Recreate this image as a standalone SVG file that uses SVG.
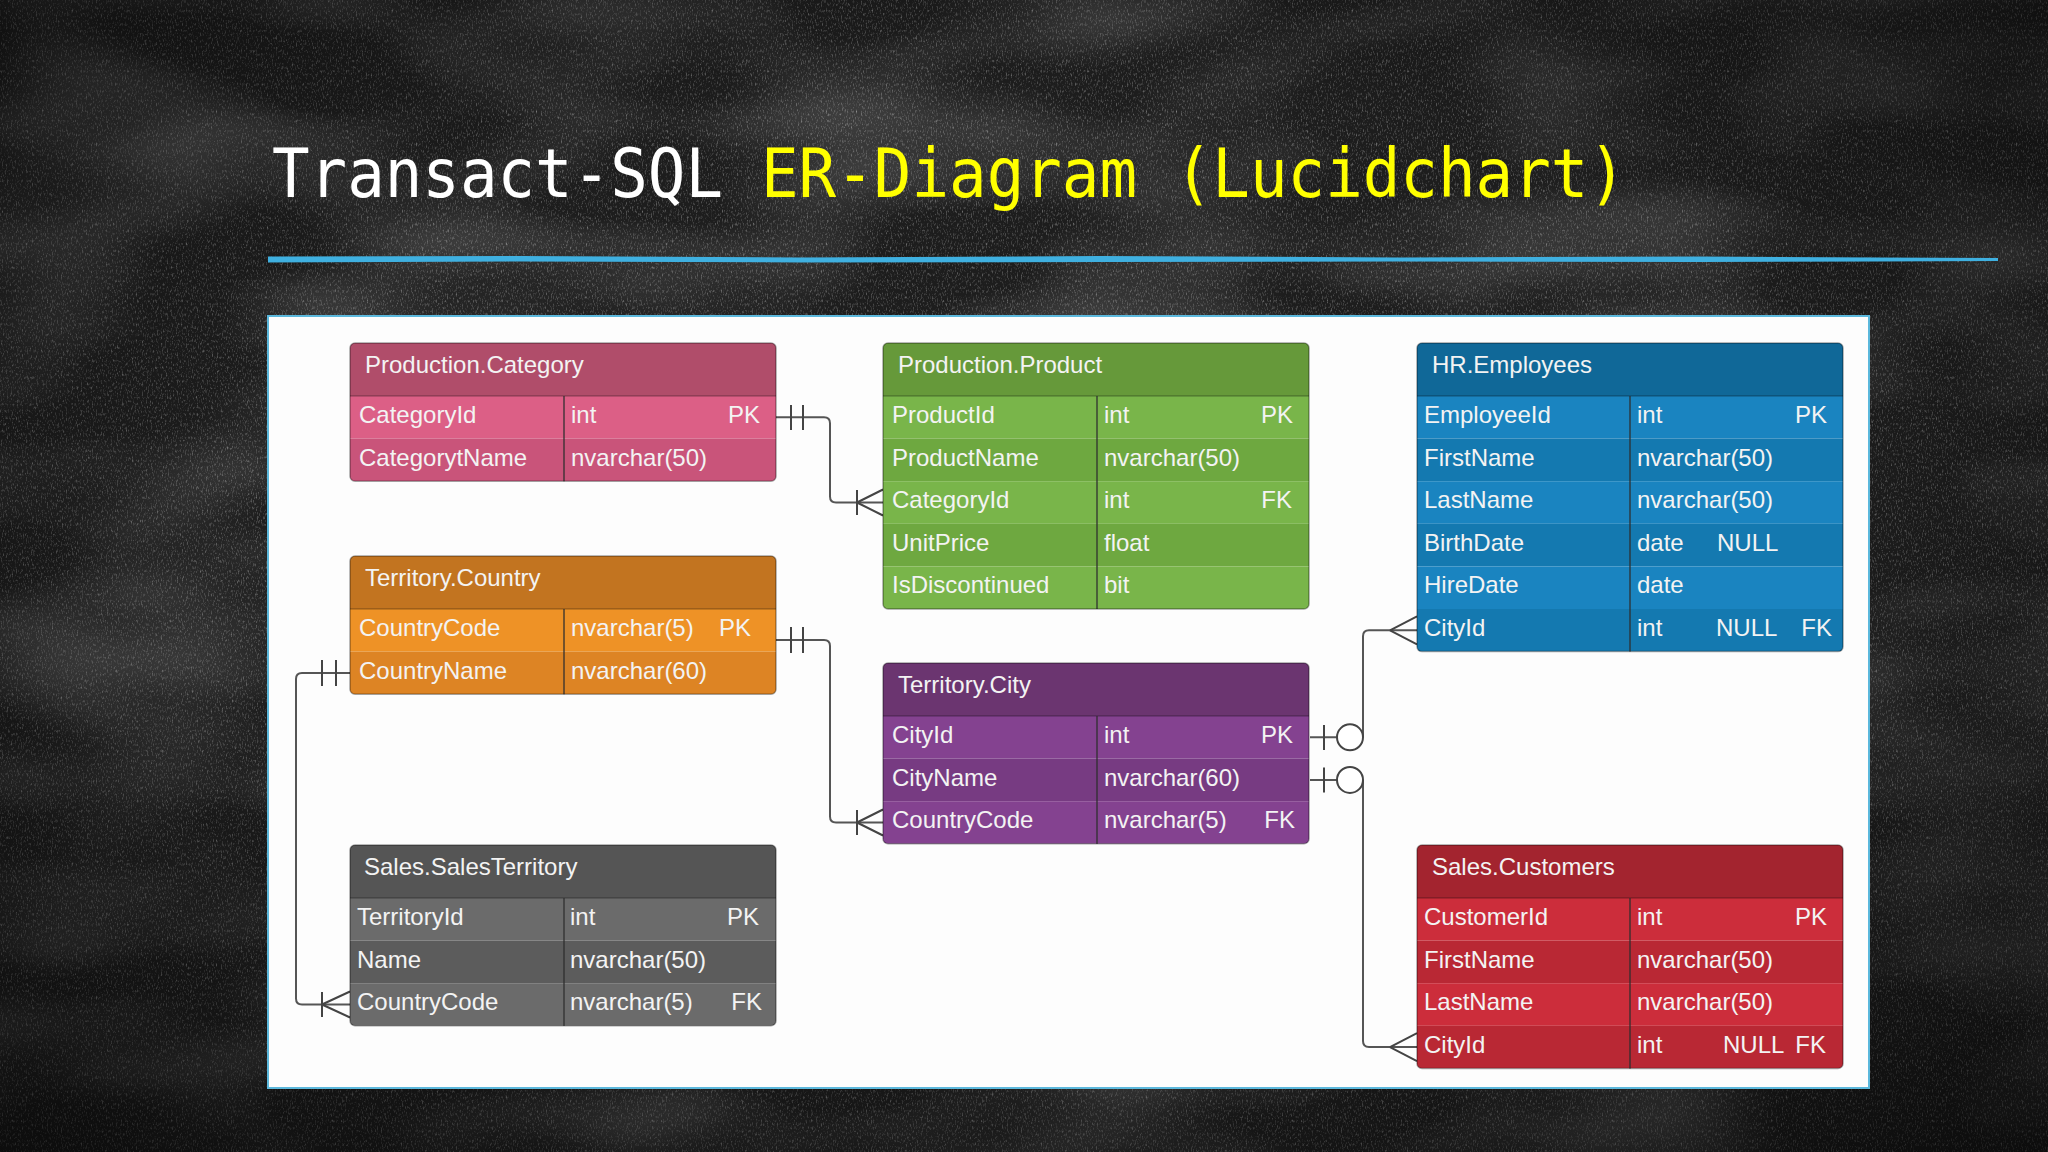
<svg xmlns="http://www.w3.org/2000/svg" width="2048" height="1152" viewBox="0 0 2048 1152">
<defs>
<style>
.title{font-family:"DejaVu Sans Mono","Liberation Mono",monospace;font-size:68px}
.t{font-family:"Liberation Sans",Arial,sans-serif;font-size:24px;fill:#f3f3f3}
.div{stroke:#2e2e2e;stroke-opacity:.85;stroke-width:1.5}
.hl{stroke:#000;stroke-opacity:.25;stroke-width:1.5}
.ol{fill:none;stroke:#000;stroke-opacity:.35;stroke-width:1.5}
.cn{fill:none;stroke:#555;stroke-width:2}
.ck{fill:none;stroke:#444;stroke-width:2}
.circ{fill:#fff;stroke:#444;stroke-width:2}
</style>
<filter id="chalk" x="0" y="0" width="2048" height="1152" filterUnits="userSpaceOnUse">
<feTurbulence type="fractalNoise" baseFrequency="0.8 0.3" numOctaves="3" seed="7" result="n"/>
<feColorMatrix in="n" type="matrix" values="0 0 0 0 0.8  0 0 0 0 0.8  0 0 0 0 0.8  1.0 0 0 0 -0.52"/>
</filter>
<filter id="blot" x="0" y="0" width="2048" height="1152" filterUnits="userSpaceOnUse">
<feTurbulence type="fractalNoise" baseFrequency="0.004 0.01" numOctaves="2" seed="3" result="n"/>
<feColorMatrix in="n" type="matrix" values="0 0 0 0 0.6  0 0 0 0 0.6  0 0 0 0 0.6  0.45 0 0 0 -0.18"/>
</filter>
<radialGradient id="vig" cx="0.5" cy="0.45" r="0.75">
<stop offset="0.5" stop-color="#000" stop-opacity="0"/>
<stop offset="1" stop-color="#000" stop-opacity="0.6"/>
</radialGradient>
<clipPath id="c2"><rect x="0" y="0" width="426" height="138.2" rx="5"/></clipPath>
<clipPath id="c3"><rect x="0" y="0" width="426" height="180.8" rx="5"/></clipPath>
<clipPath id="c4"><rect x="0" y="0" width="426" height="223.4" rx="5"/></clipPath>
<clipPath id="c5"><rect x="0" y="0" width="426" height="266" rx="5"/></clipPath>
<clipPath id="c6"><rect x="0" y="0" width="426" height="308.6" rx="5"/></clipPath>
</defs>

<!-- background -->
<rect x="0" y="0" width="2048" height="1152" fill="#1d1d1d"/>
<rect x="0" y="0" width="2048" height="1152" filter="url(#blot)"/>
<rect x="0" y="0" width="2048" height="1152" filter="url(#chalk)"/>
<rect x="0" y="0" width="2048" height="1152" fill="url(#vig)"/>

<!-- title -->
<text x="272" y="197" class="title" fill="#ffffff" textLength="451" lengthAdjust="spacingAndGlyphs">Transact-SQL</text>
<text x="761" y="197" class="title" fill="#ffff00" textLength="865" lengthAdjust="spacingAndGlyphs">ER-Diagram (Lucidchart)</text>

<!-- blue brush line -->
<path d="M268,256.5 L520,256 L800,257.5 L1100,256 L1400,257.5 L1700,256.5 L1880,257.5 L1998,258 L1998,261 L1880,261.5 L1700,262 L1400,261.5 L1100,262 L800,262.5 L520,261.5 L268,262.5 Z" fill="#3fb0e0"/>

<!-- white panel -->
<rect x="268" y="316" width="1601" height="772" fill="#fdfdfd" stroke="#5bb8dc" stroke-width="2"/>

<!-- connectors -->
<g id="connectors">
  <!-- Category.CategoryId -> Product.CategoryId -->
  <path class="cn" d="M776,417.3 H824 Q830,417.3 830,423.3 V496.5 Q830,502.5 836,502.5 H883"/>
  <path class="ck" d="M791,405 V430 M803,405 V430"/>
  <path class="ck" d="M857,502.5 L883,489.5 M857,502.5 L883,515.5 M857,490 V515"/>
  <!-- Country.CountryCode -> City.CountryCode -->
  <path class="cn" d="M776,640 H824 Q830,640 830,646 V816.5 Q830,822.5 836,822.5 H883"/>
  <path class="ck" d="M791,627 V653 M803,627 V653"/>
  <path class="ck" d="M857,822.5 L883,809.5 M857,822.5 L883,835.5 M857,810 V835"/>
  <!-- Country.CountryName -> SalesTerritory.CountryCode -->
  <path class="cn" d="M350,673 H302 Q296,673 296,679 V998.5 Q296,1004.5 302,1004.5 H350"/>
  <path class="ck" d="M322,660 V686 M336,660 V686"/>
  <path class="ck" d="M322,1004.5 L350,991.5 M322,1004.5 L350,1017.5 M322,992 V1017"/>
  <!-- City.CityId -> Employees.CityId -->
  <path class="cn" d="M1310,737.3 H1337 M1363,737.3 V636.3 Q1363,630.3 1369,630.3 H1417"/>
  <path class="ck" d="M1324,725 V750"/>
  <circle class="circ" cx="1350" cy="737.3" r="13"/>
  <path class="ck" d="M1390,630.3 L1417,616.3 M1390,630.3 L1417,644.3"/>
  <!-- City.CityName -> Customers.CityId -->
  <path class="cn" d="M1310,779.9 H1337 M1363,779.9 V1041.1 Q1363,1047.1 1369,1047.1 H1417"/>
  <path class="ck" d="M1324,767.5 V792.5"/>
  <circle class="circ" cx="1350" cy="779.9" r="13"/>
  <path class="ck" d="M1390,1047.1 L1417,1033.1 M1390,1047.1 L1417,1061.1"/>
</g>

<!-- Production.Category -->
<g id="production-category" transform="translate(350,343)">
  <g clip-path="url(#c2)">
    <rect x="0" y="0" width="426" height="53" fill="#b04d6a"/>
    <rect x="0" y="53" width="426" height="42.6" fill="#dc5f86"/>
    <rect x="0" y="95.6" width="426" height="42.6" fill="#c9547a"/>
  </g>
  <line class="hl" x1="0" y1="53" x2="426" y2="53"/>
  <line class="div" x1="214" y1="53" x2="214" y2="138.2"/>
  <rect class="ol" x="0" y="0" width="426" height="138.2" rx="5"/>
  <text class="t" x="15" y="30">Production.Category</text>
  <text class="t" x="9" y="80">CategoryId</text><text class="t" x="221" y="80">int</text><text class="t" x="410" y="80" text-anchor="end">PK</text>
  <text class="t" x="9" y="122.6">CategorytName</text><text class="t" x="221" y="122.6">nvarchar(50)</text>
</g>

<!-- Production.Product -->
<g id="production-product" transform="translate(883,343)">
  <g clip-path="url(#c5)">
    <rect x="0" y="0" width="426" height="53" fill="#66993a"/>
    <rect x="0" y="53" width="426" height="42.6" fill="#79b54a"/>
    <rect x="0" y="95.6" width="426" height="42.6" fill="#6ea840"/>
    <rect x="0" y="138.2" width="426" height="42.6" fill="#79b54a"/>
    <rect x="0" y="180.8" width="426" height="42.6" fill="#6ea840"/>
    <rect x="0" y="223.4" width="426" height="42.6" fill="#79b54a"/>
  </g>
  <line class="hl" x1="0" y1="53" x2="426" y2="53"/>
  <line class="div" x1="214" y1="53" x2="214" y2="266"/>
  <rect class="ol" x="0" y="0" width="426" height="266" rx="5"/>
  <text class="t" x="15" y="30">Production.Product</text>
  <text class="t" x="9" y="80">ProductId</text><text class="t" x="221" y="80">int</text><text class="t" x="410" y="80" text-anchor="end">PK</text>
  <text class="t" x="9" y="122.6">ProductName</text><text class="t" x="221" y="122.6">nvarchar(50)</text>
  <text class="t" x="9" y="165.2">CategoryId</text><text class="t" x="221" y="165.2">int</text><text class="t" x="409" y="165.2" text-anchor="end">FK</text>
  <text class="t" x="9" y="207.8">UnitPrice</text><text class="t" x="221" y="207.8">float</text>
  <text class="t" x="9" y="250.4">IsDiscontinued</text><text class="t" x="221" y="250.4">bit</text>
</g>

<!-- HR.Employees -->
<g id="hr-employees" transform="translate(1417,343)">
  <g clip-path="url(#c6)">
    <rect x="0" y="0" width="426" height="53" fill="#106898"/>
    <rect x="0" y="53" width="426" height="42.6" fill="#1a84c0"/>
    <rect x="0" y="95.6" width="426" height="42.6" fill="#1479b0"/>
    <rect x="0" y="138.2" width="426" height="42.6" fill="#1a84c0"/>
    <rect x="0" y="180.8" width="426" height="42.6" fill="#1479b0"/>
    <rect x="0" y="223.4" width="426" height="42.6" fill="#1a84c0"/>
    <rect x="0" y="266" width="426" height="42.6" fill="#1479b0"/>
  </g>
  <line class="hl" x1="0" y1="53" x2="426" y2="53"/>
  <line class="div" x1="213" y1="53" x2="213" y2="308.6"/>
  <rect class="ol" x="0" y="0" width="426" height="308.6" rx="5"/>
  <text class="t" x="15" y="30">HR.Employees</text>
  <text class="t" x="7" y="80">EmployeeId</text><text class="t" x="220" y="80">int</text><text class="t" x="410" y="80" text-anchor="end">PK</text>
  <text class="t" x="7" y="122.6">FirstName</text><text class="t" x="220" y="122.6">nvarchar(50)</text>
  <text class="t" x="7" y="165.2">LastName</text><text class="t" x="220" y="165.2">nvarchar(50)</text>
  <text class="t" x="7" y="207.8">BirthDate</text><text class="t" x="220" y="207.8">date</text><text class="t" x="300" y="207.8">NULL</text>
  <text class="t" x="7" y="250.4">HireDate</text><text class="t" x="220" y="250.4">date</text>
  <text class="t" x="7" y="293">CityId</text><text class="t" x="220" y="293">int</text><text class="t" x="299" y="293">NULL</text><text class="t" x="415" y="293" text-anchor="end">FK</text>
</g>

<!-- Territory.Country -->
<g id="territory-country" transform="translate(350,556)">
  <g clip-path="url(#c2)">
    <rect x="0" y="0" width="426" height="53" fill="#c27420"/>
    <rect x="0" y="53" width="426" height="42.6" fill="#ee9226"/>
    <rect x="0" y="95.6" width="426" height="42.6" fill="#dd8424"/>
  </g>
  <line class="hl" x1="0" y1="53" x2="426" y2="53"/>
  <line class="div" x1="214" y1="53" x2="214" y2="138.2"/>
  <rect class="ol" x="0" y="0" width="426" height="138.2" rx="5"/>
  <text class="t" x="15" y="30">Territory.Country</text>
  <text class="t" x="9" y="80">CountryCode</text><text class="t" x="221" y="80">nvarchar(5)</text><text class="t" x="401" y="80" text-anchor="end">PK</text>
  <text class="t" x="9" y="122.6">CountryName</text><text class="t" x="221" y="122.6">nvarchar(60)</text>
</g>

<!-- Territory.City -->
<g id="territory-city" transform="translate(883,663)">
  <g clip-path="url(#c3)">
    <rect x="0" y="0" width="426" height="53" fill="#6b3570"/>
    <rect x="0" y="53" width="426" height="42.6" fill="#844290"/>
    <rect x="0" y="95.6" width="426" height="42.6" fill="#773b82"/>
    <rect x="0" y="138.2" width="426" height="42.6" fill="#844290"/>
  </g>
  <line class="hl" x1="0" y1="53" x2="426" y2="53"/>
  <line class="div" x1="214" y1="53" x2="214" y2="180.8"/>
  <rect class="ol" x="0" y="0" width="426" height="180.8" rx="5"/>
  <text class="t" x="15" y="30">Territory.City</text>
  <text class="t" x="9" y="80">CityId</text><text class="t" x="221" y="80">int</text><text class="t" x="410" y="80" text-anchor="end">PK</text>
  <text class="t" x="9" y="122.6">CityName</text><text class="t" x="221" y="122.6">nvarchar(60)</text>
  <text class="t" x="9" y="165.2">CountryCode</text><text class="t" x="221" y="165.2">nvarchar(5)</text><text class="t" x="412" y="165.2" text-anchor="end">FK</text>
</g>

<!-- Sales.SalesTerritory -->
<g id="sales-salesterritory" transform="translate(350,845)">
  <g clip-path="url(#c3)">
    <rect x="0" y="0" width="426" height="53" fill="#555555"/>
    <rect x="0" y="53" width="426" height="42.6" fill="#6b6b6b"/>
    <rect x="0" y="95.6" width="426" height="42.6" fill="#5c5c5c"/>
    <rect x="0" y="138.2" width="426" height="42.6" fill="#6b6b6b"/>
  </g>
  <line class="hl" x1="0" y1="53" x2="426" y2="53"/>
  <line class="div" x1="214" y1="53" x2="214" y2="180.8"/>
  <rect class="ol" x="0" y="0" width="426" height="180.8" rx="5"/>
  <text class="t" x="14" y="30">Sales.SalesTerritory</text>
  <text class="t" x="7" y="80">TerritoryId</text><text class="t" x="220" y="80">int</text><text class="t" x="409" y="80" text-anchor="end">PK</text>
  <text class="t" x="7" y="122.6">Name</text><text class="t" x="220" y="122.6">nvarchar(50)</text>
  <text class="t" x="7" y="165.2">CountryCode</text><text class="t" x="220" y="165.2">nvarchar(5)</text><text class="t" x="412" y="165.2" text-anchor="end">FK</text>
</g>

<!-- Sales.Customers -->
<g id="sales-customers" transform="translate(1417,845)">
  <g clip-path="url(#c4)">
    <rect x="0" y="0" width="426" height="53" fill="#a3242f"/>
    <rect x="0" y="53" width="426" height="42.6" fill="#cc2d3b"/>
    <rect x="0" y="95.6" width="426" height="42.6" fill="#b92834"/>
    <rect x="0" y="138.2" width="426" height="42.6" fill="#cc2d3b"/>
    <rect x="0" y="180.8" width="426" height="42.6" fill="#b92834"/>
  </g>
  <line class="hl" x1="0" y1="53" x2="426" y2="53"/>
  <line class="div" x1="213" y1="53" x2="213" y2="223.4"/>
  <rect class="ol" x="0" y="0" width="426" height="223.4" rx="5"/>
  <text class="t" x="15" y="30">Sales.Customers</text>
  <text class="t" x="7" y="80">CustomerId</text><text class="t" x="220" y="80">int</text><text class="t" x="410" y="80" text-anchor="end">PK</text>
  <text class="t" x="7" y="122.6">FirstName</text><text class="t" x="220" y="122.6">nvarchar(50)</text>
  <text class="t" x="7" y="165.2">LastName</text><text class="t" x="220" y="165.2">nvarchar(50)</text>
  <text class="t" x="7" y="207.8">CityId</text><text class="t" x="220" y="207.8">int</text><text class="t" x="306" y="207.8">NULL</text><text class="t" x="409" y="207.8" text-anchor="end">FK</text>
</g>
</svg>
